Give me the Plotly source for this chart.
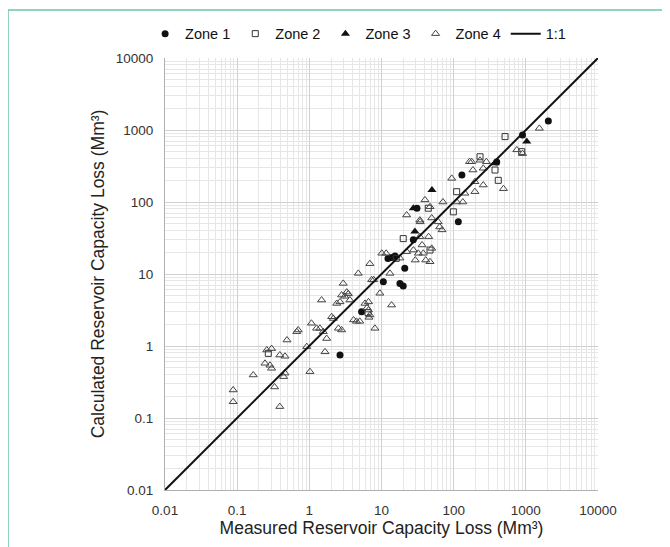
import plotly.graph_objects as go

# ---- Data (Mm^3) ----
zone1_x = [2050, 900, 395, 130, 31, 116, 27.6, 13.8, 12.3, 15.4, 21, 10.6, 18, 20, 5.3, 2.66]
zone1_y = [1330, 850, 360, 237, 82, 53, 30, 17, 16.4, 17.8, 12, 7.8, 7.4, 6.8, 3.0, 0.75]

zone2_x = [515, 232, 110, 44.5, 99, 20, 47, 0.27, 6.5, 374, 415, 877, 16]
zone2_y = [810, 425, 139, 82, 73, 31, 21.5, 0.79, 2.9, 278, 200, 500, 16.5]

zone3_x = [50, 27.6, 29, 1030, 375]
zone3_y = [147, 82, 39, 690, 345]

zone4_x = [0.088, 0.088, 0.167, 0.257, 0.30, 0.243, 0.285, 0.30, 0.39, 0.46,
           0.49, 0.67, 0.70, 0.33, 0.39, 0.44, 0.46, 0.92, 1.02, 1.07,
           1.26, 1.48, 1.56, 1.74, 1.65, 2.04, 2.40, 2.53, 2.8, 2.95,
           3.1, 3.3, 2.8, 4.77, 5.9, 6.3, 6.7, 4.1, 4.5, 5.0,
           8.1, 6.9, 7.8, 3.47, 3.65, 9.5, 2.66, 2.15, 13.8, 1.4,
           7.3, 13.1, 10.1, 22.3, 27.7, 32.4, 37.9, 29.4, 34.3, 178,
           232, 284, 94, 197, 143, 197, 71, 110, 134, 40,
           47, 22.3, 34, 49.6, 61, 64, 69, 34, 45, 36.5,
           49.6, 41, 18, 11.6, 1538, 750, 900, 166, 185, 257,
           490, 257, 47, 6.6, 6.6, 6.9]
zone4_y = [0.245, 0.168, 0.396, 0.88, 0.92, 0.575, 0.54, 0.49, 0.75, 0.72,
           1.21, 1.58, 1.67, 0.27, 0.144, 0.375, 0.42, 0.98, 0.44, 2.07,
           1.76, 4.35, 1.58, 1.27, 0.83, 2.55, 3.9, 1.76, 5.1, 7.4,
           4.9, 5.6, 1.67, 10.2, 3.9, 3.4, 2.5, 2.3, 2.2, 2.2,
           1.76, 13.9, 8.3, 5.3, 4.35, 5.4, 4.1, 2.41, 3.7, 1.76,
           8.3, 10.2, 19.4, 20.4, 21.5, 19.4, 19.4, 15.6, 53, 363,
           380, 363, 213, 191, 132, 139, 100, 100, 100, 107,
           86, 66, 56, 60, 53, 45, 41, 33, 33, 25.3,
           22.7, 15.6, 16.6, 19.4, 1055, 530, 470, 363, 278, 172,
           153, 294, 14.8, 4.1, 3.16, 2.7]

line_x = [0.01, 10000]
line_y = [0.01, 10000]

decades = [0.01, 0.1, 1, 10, 100, 1000, 10000]
tick_text = ["0.01", "0.1", "1", "10", "100", "1000", "10000"]
minor_vals = [m * d for d in decades[:-1] for m in range(2, 10)]

FONT = "Liberation Sans, Arial, sans-serif"

fig = go.Figure()
fig.add_trace(go.Scatter(x=zone1_x, y=zone1_y, mode="markers", name="Zone 1",
                         marker=dict(symbol="circle", size=7, color="#111")))
fig.add_trace(go.Scatter(x=zone2_x, y=zone2_y, mode="markers", name="Zone 2",
                         marker=dict(symbol="square-open", size=6, color="#333",
                                     line=dict(width=1, color="#333"))))
fig.add_trace(go.Scatter(x=zone3_x, y=zone3_y, mode="markers", name="Zone 3",
                         marker=dict(symbol="triangle-up", size=8, color="#111")))
fig.add_trace(go.Scatter(x=zone4_x, y=zone4_y, mode="markers", name="Zone 4",
                         marker=dict(symbol="triangle-up-open", size=7, color="#444",
                                     line=dict(width=1, color="#444"))))
fig.add_trace(go.Scatter(x=line_x, y=line_y, mode="lines", name="1:1",
                         line=dict(color="#111", width=2)))

axis_common = dict(
    type="log", range=[-2, 4], tickmode="array", tickvals=decades, ticktext=tick_text,
    showgrid=True, gridcolor="#d0d0d0", gridwidth=1, zeroline=False,
    showline=True, linecolor="#b0b0b0", linewidth=1,
    ticks="outside", ticklen=8, tickcolor="rgba(0,0,0,0)",
    tickfont=dict(size=13.5, color="#333", family=FONT),
    minor=dict(tickmode="array", tickvals=minor_vals, showgrid=True,
               gridcolor="#e6e6e6", gridwidth=1, ticks=""),
)

fig.update_xaxes(**axis_common,
                 title=dict(text="Measured Reservoir Capacity Loss (Mm³)",
                            font=dict(size=17.5, color="#222", family=FONT), standoff=4))
fig.update_yaxes(**axis_common,
                 title=dict(text="Calculated Reservoir Capacity Loss (Mm³)",
                            font=dict(size=17.5, color="#222", family=FONT), standoff=6))

teal = "#6cc4a6"
fig.update_layout(
    width=670, height=547,
    margin=dict(l=157, r=80, t=50, b=65, autoexpand=False),
    paper_bgcolor="white", plot_bgcolor="white",
    font=dict(family=FONT, color="#222"),
    showlegend=True,
    legend=dict(orientation="h", x=0.446, xanchor="center",
                yref="container", y=0.953, yanchor="middle",
                font=dict(size=14.5, color="#111", family=FONT),
                bgcolor="rgba(0,0,0,0)", itemwidth=30, tracegroupgap=0),
    shapes=[
        dict(type="line", xref="paper", yref="paper", x0=-0.3626, x1=1.2, y0=1.111, y1=1.111,
             line=dict(color=teal, width=1.5)),
        dict(type="line", xref="paper", yref="paper", x0=-0.3626, x1=-0.3626, y0=1.111, y1=-0.2,
             line=dict(color=teal, width=1.5)),
    ],
)

fig.write_html("out.html")
